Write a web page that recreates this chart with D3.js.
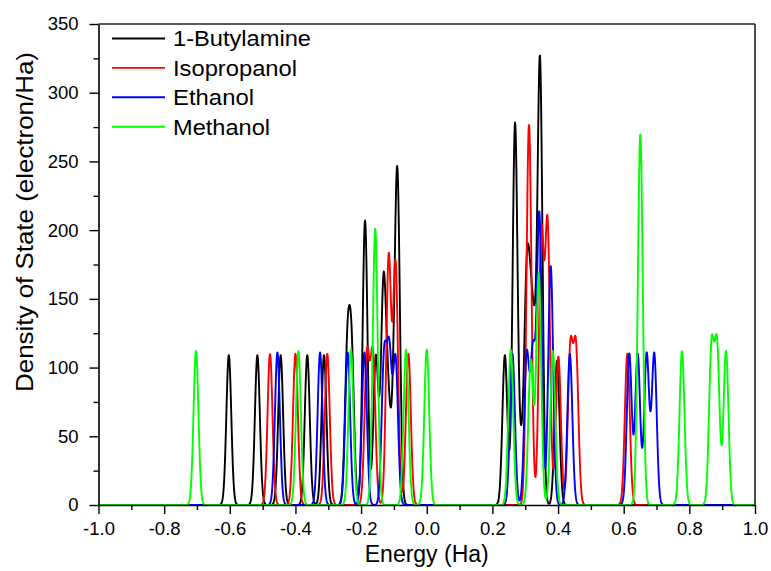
<!DOCTYPE html>
<html><head><meta charset="utf-8">
<script src="https://cdn.jsdelivr.net/npm/d3@7"></script>
<style>body{margin:0;background:#fff}</style>
</head><body><svg id="chart" width="771" height="571"></svg>
<script>
// Series names and colours
const seriesNames = ["1-Butylamine", "Isopropanol", "Ethanol", "Methanol"];
const seriesColors = ["#000000", "#ff0000", "#0000ff", "#00ff00"];

// Energy levels [energy (Ha), peak weight (electron/Ha)]
const butylamineLevels = [[-0.603,109],[-0.516,109],[-0.445,109],[-0.364,109],[-0.313,109],[-0.242,106],[-0.229,106],[-0.188,207],[-0.155,108],[-0.132,155],[-0.118,70],[-0.100,60],[-0.089,224],[0.238,109],[0.269,277],[0.288,32],[0.304,145],[0.316,108],[0.328,90],[0.345,320],[0.397,105]];
const isopropanolLevels = [[-0.4775,110],[-0.400,110],[-0.303,110],[-0.182,108],[-0.164,108],[-0.116,180],[-0.095,175],[-0.056,110],[0.3115,277],[0.349,195],[0.368,202],[0.401,108],[0.4375,112],[0.4545,112],[0.611,110]];
const ethanolLevels = [[-0.455,111],[-0.325,111],[-0.241,111],[-0.190,111],[-0.130,104],[-0.114,106],[-0.095,105],[0.261,110],[0.3045,108],[0.3235,108],[0.343,210],[0.3776,174],[0.436,110],[0.617,110],[0.6426,110],[0.670,110],[0.693,110]];
const methanolLevels = [[-0.703,112],[-0.391,112],[-0.231,113],[-0.157,201],[-0.063,113],[0.000,113],[0.256,113],[0.317,105],[0.341,168],[0.384,112],[0.6506,270],[0.7776,112],[0.8675,113],[0.8845,113],[0.9117,112]];

// Ticks
const xTickValues = [-1.0,-0.8,-0.6,-0.4,-0.2,0.0,0.2,0.4,0.6,0.8,1.0];
const xTickLabels = ["-1.0","-0.8","-0.6","-0.4","-0.2","0.0","0.2","0.4","0.6","0.8","1.0"];
const xMinorTicks = [-0.9,-0.7,-0.5,-0.3,-0.1,0.1,0.3,0.5,0.7,0.9];
const yTickValues = [0,50,100,150,200,250,300,350];
const yTickLabels = ["0","50","100","150","200","250","300","350"];
const yMinorTicks = [25,75,125,175,225,275,325];

const xTitle = "Energy (Ha)";
const yTitle = "Density of State (electron/Ha)";
const smearingWidth = 0.0075; // Gaussian broadening (Ha)

const allLevels = [butylamineLevels, isopropanolLevels, ethanolLevels, methanolLevels];

const FONT = "'Liberation Sans', Arial, sans-serif";
const svg = d3.select("#chart");
const pLeft = 98.5, pRight = 755, pTop = 24, pBottom = 505;
const x = d3.scaleLinear().domain([-1, 1]).range([pLeft, pRight]);
const y = d3.scaleLinear().domain([0, 350]).range([pBottom, pTop]);

// DOS curves: Gaussian broadening of the levels on an energy grid
const grid = d3.range(0, 2001).map(i => -1 + i * 0.001);
function dos(levels) {
  return grid.map(e => [e, d3.sum(levels, l => l[1] * Math.exp(-((e - l[0]) ** 2) / (2 * smearingWidth ** 2)))]);
}

svg.append("defs").append("clipPath").attr("id", "clip")
  .append("rect").attr("x", pLeft).attr("y", pTop - 2).attr("width", pRight - pLeft).attr("height", pBottom - pTop + 2);

const line = d3.line().x(d => x(d[0])).y(d => y(d[1]));
const curves = svg.append("g").attr("clip-path", "url(#clip)");
allLevels.forEach((lv, i) => {
  curves.append("path").datum(dos(lv))
    .attr("fill", "none").attr("stroke", seriesColors[i])
    .attr("stroke-width", 1.9).attr("stroke-linejoin", "round")
    .attr("d", line);
});

// Axes
svg.append("g").attr("transform", `translate(0,${pBottom})`)
  .call(d3.axisBottom(x).tickValues(xTickValues).tickFormat((d, i) => xTickLabels[i]).tickSize(9).tickSizeOuter(0).tickPadding(8));
svg.append("g").attr("transform", `translate(0,${pBottom})`)
  .call(d3.axisBottom(x).tickValues(xMinorTicks).tickFormat("").tickSize(5).tickSizeOuter(0))
  .select(".domain").remove();
svg.append("g").attr("transform", `translate(${pLeft},0)`)
  .call(d3.axisLeft(y).tickValues(yTickValues).tickFormat((d, i) => yTickLabels[i]).tickSize(9).tickSizeOuter(0).tickPadding(11));
svg.append("g").attr("transform", `translate(${pLeft},0)`)
  .call(d3.axisLeft(y).tickValues(yMinorTicks).tickFormat("").tickSize(5).tickSizeOuter(0))
  .select(".domain").remove();

svg.selectAll(".tick line").attr("stroke", "#000").attr("stroke-width", 1.4);
svg.selectAll(".domain").attr("stroke", "#000").attr("stroke-width", 1.6);
svg.selectAll(".tick text").attr("font-family", FONT).attr("font-size", 18.5).attr("fill", "#000");

// frame top/right
svg.append("line").attr("x1", pLeft).attr("x2", pRight).attr("y1", pTop).attr("y2", pTop).attr("stroke", "#222").attr("stroke-width", 1.6);
svg.append("line").attr("x1", pRight).attr("x2", pRight).attr("y1", pTop).attr("y2", pBottom).attr("stroke", "#222").attr("stroke-width", 1.6);

// Titles
svg.append("text").attr("x", (pLeft + pRight) / 2).attr("y", 562)
  .attr("text-anchor", "middle").attr("font-family", FONT).attr("font-size", 23).text(xTitle);
svg.append("text").attr("transform", "translate(33,222) rotate(-90)")
  .attr("text-anchor", "middle").attr("font-family", FONT).attr("font-size", 24)
  .attr("textLength", 340).attr("lengthAdjust", "spacingAndGlyphs").text(yTitle);

// Legend
const legendWidths = [138, 124, 81, 97];
const legend = svg.append("g");
seriesNames.forEach((name, i) => {
  const ry = 38.5 + i * 29.4;
  legend.append("line").attr("x1", 112).attr("x2", 165).attr("y1", ry).attr("y2", ry)
    .attr("stroke", seriesColors[i]).attr("stroke-width", 1.9);
  legend.append("text").attr("x", 173).attr("y", ry + 7.8)
    .attr("font-family", FONT).attr("font-size", 21.5)
    .attr("textLength", legendWidths[i]).attr("lengthAdjust", "spacingAndGlyphs").text(name);
});
</script></body></html>
